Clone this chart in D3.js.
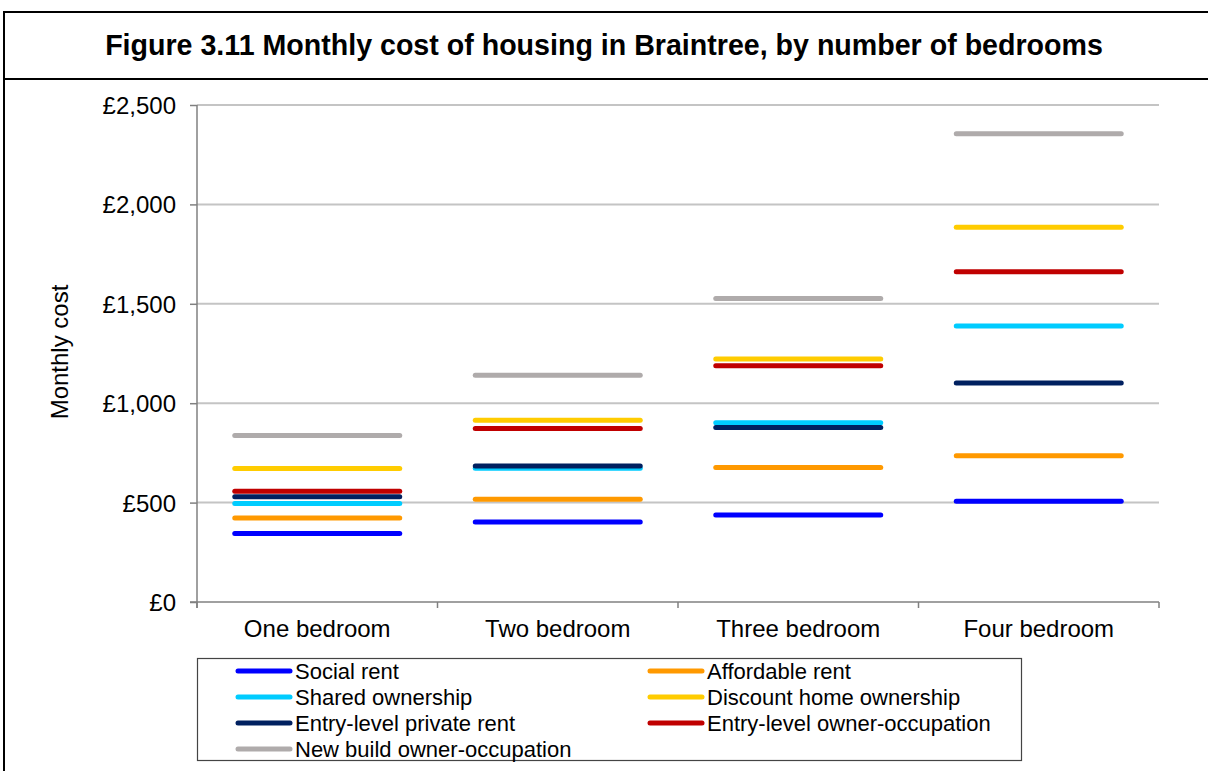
<!DOCTYPE html>
<html>
<head>
<meta charset="utf-8">
<script src="https://cdn.jsdelivr.net/npm/d3@7/dist/d3.min.js"></script>
<style>
  html, body { margin: 0; padding: 0; background: #fff; }
  svg { display: block; }
  text { font-family: "Liberation Sans", Arial, sans-serif; fill: #000; }
</style>
</head>
<body>
<svg id="chart" width="1208" height="771"></svg>
<script>
// ---- Data ----
const categories = ["One bedroom", "Two bedroom", "Three bedroom", "Four bedroom"];
const seriesNames = [
  "Social rent", "Affordable rent", "Shared ownership", "Discount home ownership",
  "Entry-level private rent", "Entry-level owner-occupation", "New build owner-occupation"
];
const socialRent        = [344, 403, 438, 507];
const affordableRent    = [423, 517, 677, 736];
const sharedOwnership   = [496, 673, 902, 1388];
const discountOwnership = [671, 914, 1222, 1885];
const privateRent       = [530, 684, 878, 1101];
const ownerOccupation   = [557, 873, 1188, 1661];
const newBuild          = [837, 1140, 1527, 2356];
const seriesValues = [socialRent, affordableRent, sharedOwnership, discountOwnership,
                      privateRent, ownerOccupation, newBuild];
const seriesColors = ["#0000FF", "#FF9900", "#00CCFF", "#FFCC00", "#002060", "#C00000", "#AFABAB"];
const yTicks = [0, 500, 1000, 1500, 2000, 2500];
const titleText = "Figure 3.11 Monthly cost of housing in Braintree, by number of bedrooms";
const yAxisTitle = "Monthly cost";

// ---- Layout ----
const svg = d3.select("#chart");
const plot = { left: 197, right: 1159, top: 105, bottom: 602 };

// Frame
svg.append("line").attr("x1", 4).attr("x2", 1208).attr("y1", 12).attr("y2", 12)
  .attr("stroke", "#000").attr("stroke-width", 2);
svg.append("line").attr("x1", 4).attr("x2", 1208).attr("y1", 79).attr("y2", 79)
  .attr("stroke", "#000").attr("stroke-width", 2);
svg.append("line").attr("x1", 4).attr("x2", 4).attr("y1", 11).attr("y2", 771)
  .attr("stroke", "#000").attr("stroke-width", 2);

svg.append("text").attr("x", 604).attr("y", 55).attr("text-anchor", "middle")
  .attr("font-size", 28.6).attr("font-weight", "bold").text(titleText);

// Scales
const y = d3.scaleLinear().domain([0, 2500]).range([plot.bottom, plot.top]);
const xCat = d3.scaleBand().domain(categories).range([plot.left, plot.right]).padding(0);
const xLine = d3.scaleBand().domain(categories).range([plot.left, plot.right])
  .paddingInner(0.314).paddingOuter(0.157);

// Gridlines
svg.append("g").selectAll("line").data(yTicks.filter(d => d > 0)).join("line")
  .attr("x1", plot.left).attr("x2", plot.right)
  .attr("y1", d => y(d)).attr("y2", d => y(d))
  .attr("stroke", "#C4C4C4").attr("stroke-width", 2);

// Y axis
const yAxis = d3.axisLeft(y).tickValues(yTicks).tickSize(7).tickPadding(14)
  .tickFormat(d => "£" + d3.format(",")(d));
const gy = svg.append("g").attr("transform", `translate(${plot.left},0)`).call(yAxis);
gy.select(".domain").attr("stroke", "#808080").attr("stroke-width", 1.5).attr("d", `M0,${plot.top}V${plot.bottom + 6}`);
gy.selectAll(".tick line").attr("stroke", "#808080").attr("stroke-width", 1.5);
gy.selectAll(".tick text").attr("font-size", 24).attr("font-family", "Liberation Sans, Arial, sans-serif")
  .attr("fill", "#000").attr("dy", "0.35em");

// Y axis title
svg.append("text").attr("transform", "translate(68,352) rotate(-90)")
  .attr("text-anchor", "middle").attr("font-size", 24).text(yAxisTitle);

// X axis
const gx = svg.append("g");
gx.append("line").attr("x1", plot.left - 7).attr("x2", plot.right)
  .attr("y1", plot.bottom).attr("y2", plot.bottom)
  .attr("stroke", "#808080").attr("stroke-width", 1.5);
const boundaries = categories.map(c => xCat(c)).concat([xCat(categories[categories.length - 1]) + xCat.bandwidth()]);
gx.selectAll("line.tk").data(boundaries).join("line").attr("class", "tk")
  .attr("x1", d => d).attr("x2", d => d)
  .attr("y1", plot.bottom).attr("y2", plot.bottom + 6)
  .attr("stroke", "#808080").attr("stroke-width", 1.5);
gx.selectAll("text").data(categories).join("text")
  .attr("x", d => xCat(d) + xCat.bandwidth() / 2).attr("y", 629).attr("dy", "0.35em")
  .attr("text-anchor", "middle").attr("font-size", 24).text(d => d);

// Series lines
seriesNames.forEach((name, si) => {
  svg.append("g").selectAll("line").data(seriesValues[si].map((v, i) => ({ cat: categories[i], v })))
    .join("line")
    .attr("x1", d => xLine(d.cat)).attr("x2", d => xLine(d.cat) + xLine.bandwidth())
    .attr("y1", d => y(d.v)).attr("y2", d => y(d.v))
    .attr("stroke", seriesColors[si]).attr("stroke-width", 5).attr("stroke-linecap", "round");
});

// Legend
const lg = svg.append("g");
lg.append("rect").attr("x", 197.5).attr("y", 658.5).attr("width", 824).attr("height", 102)
  .attr("fill", "#fff").attr("stroke", "#444").attr("stroke-width", 1.2);
const colX = [236, 648];
const rowY0 = 671, rowStep = 26;
seriesNames.forEach((name, i) => {
  const col = i % 2, row = Math.floor(i / 2);
  const lx = colX[col], ly = rowY0 + row * rowStep;
  lg.append("line").attr("x1", lx + 2).attr("x2", lx + 54).attr("y1", ly).attr("y2", ly)
    .attr("stroke", seriesColors[i]).attr("stroke-width", 5).attr("stroke-linecap", "round");
  lg.append("text").attr("x", lx + 59).attr("y", ly).attr("dy", "0.35em")
    .attr("font-size", 22).text(name);
});
</script>
</body>
</html>
